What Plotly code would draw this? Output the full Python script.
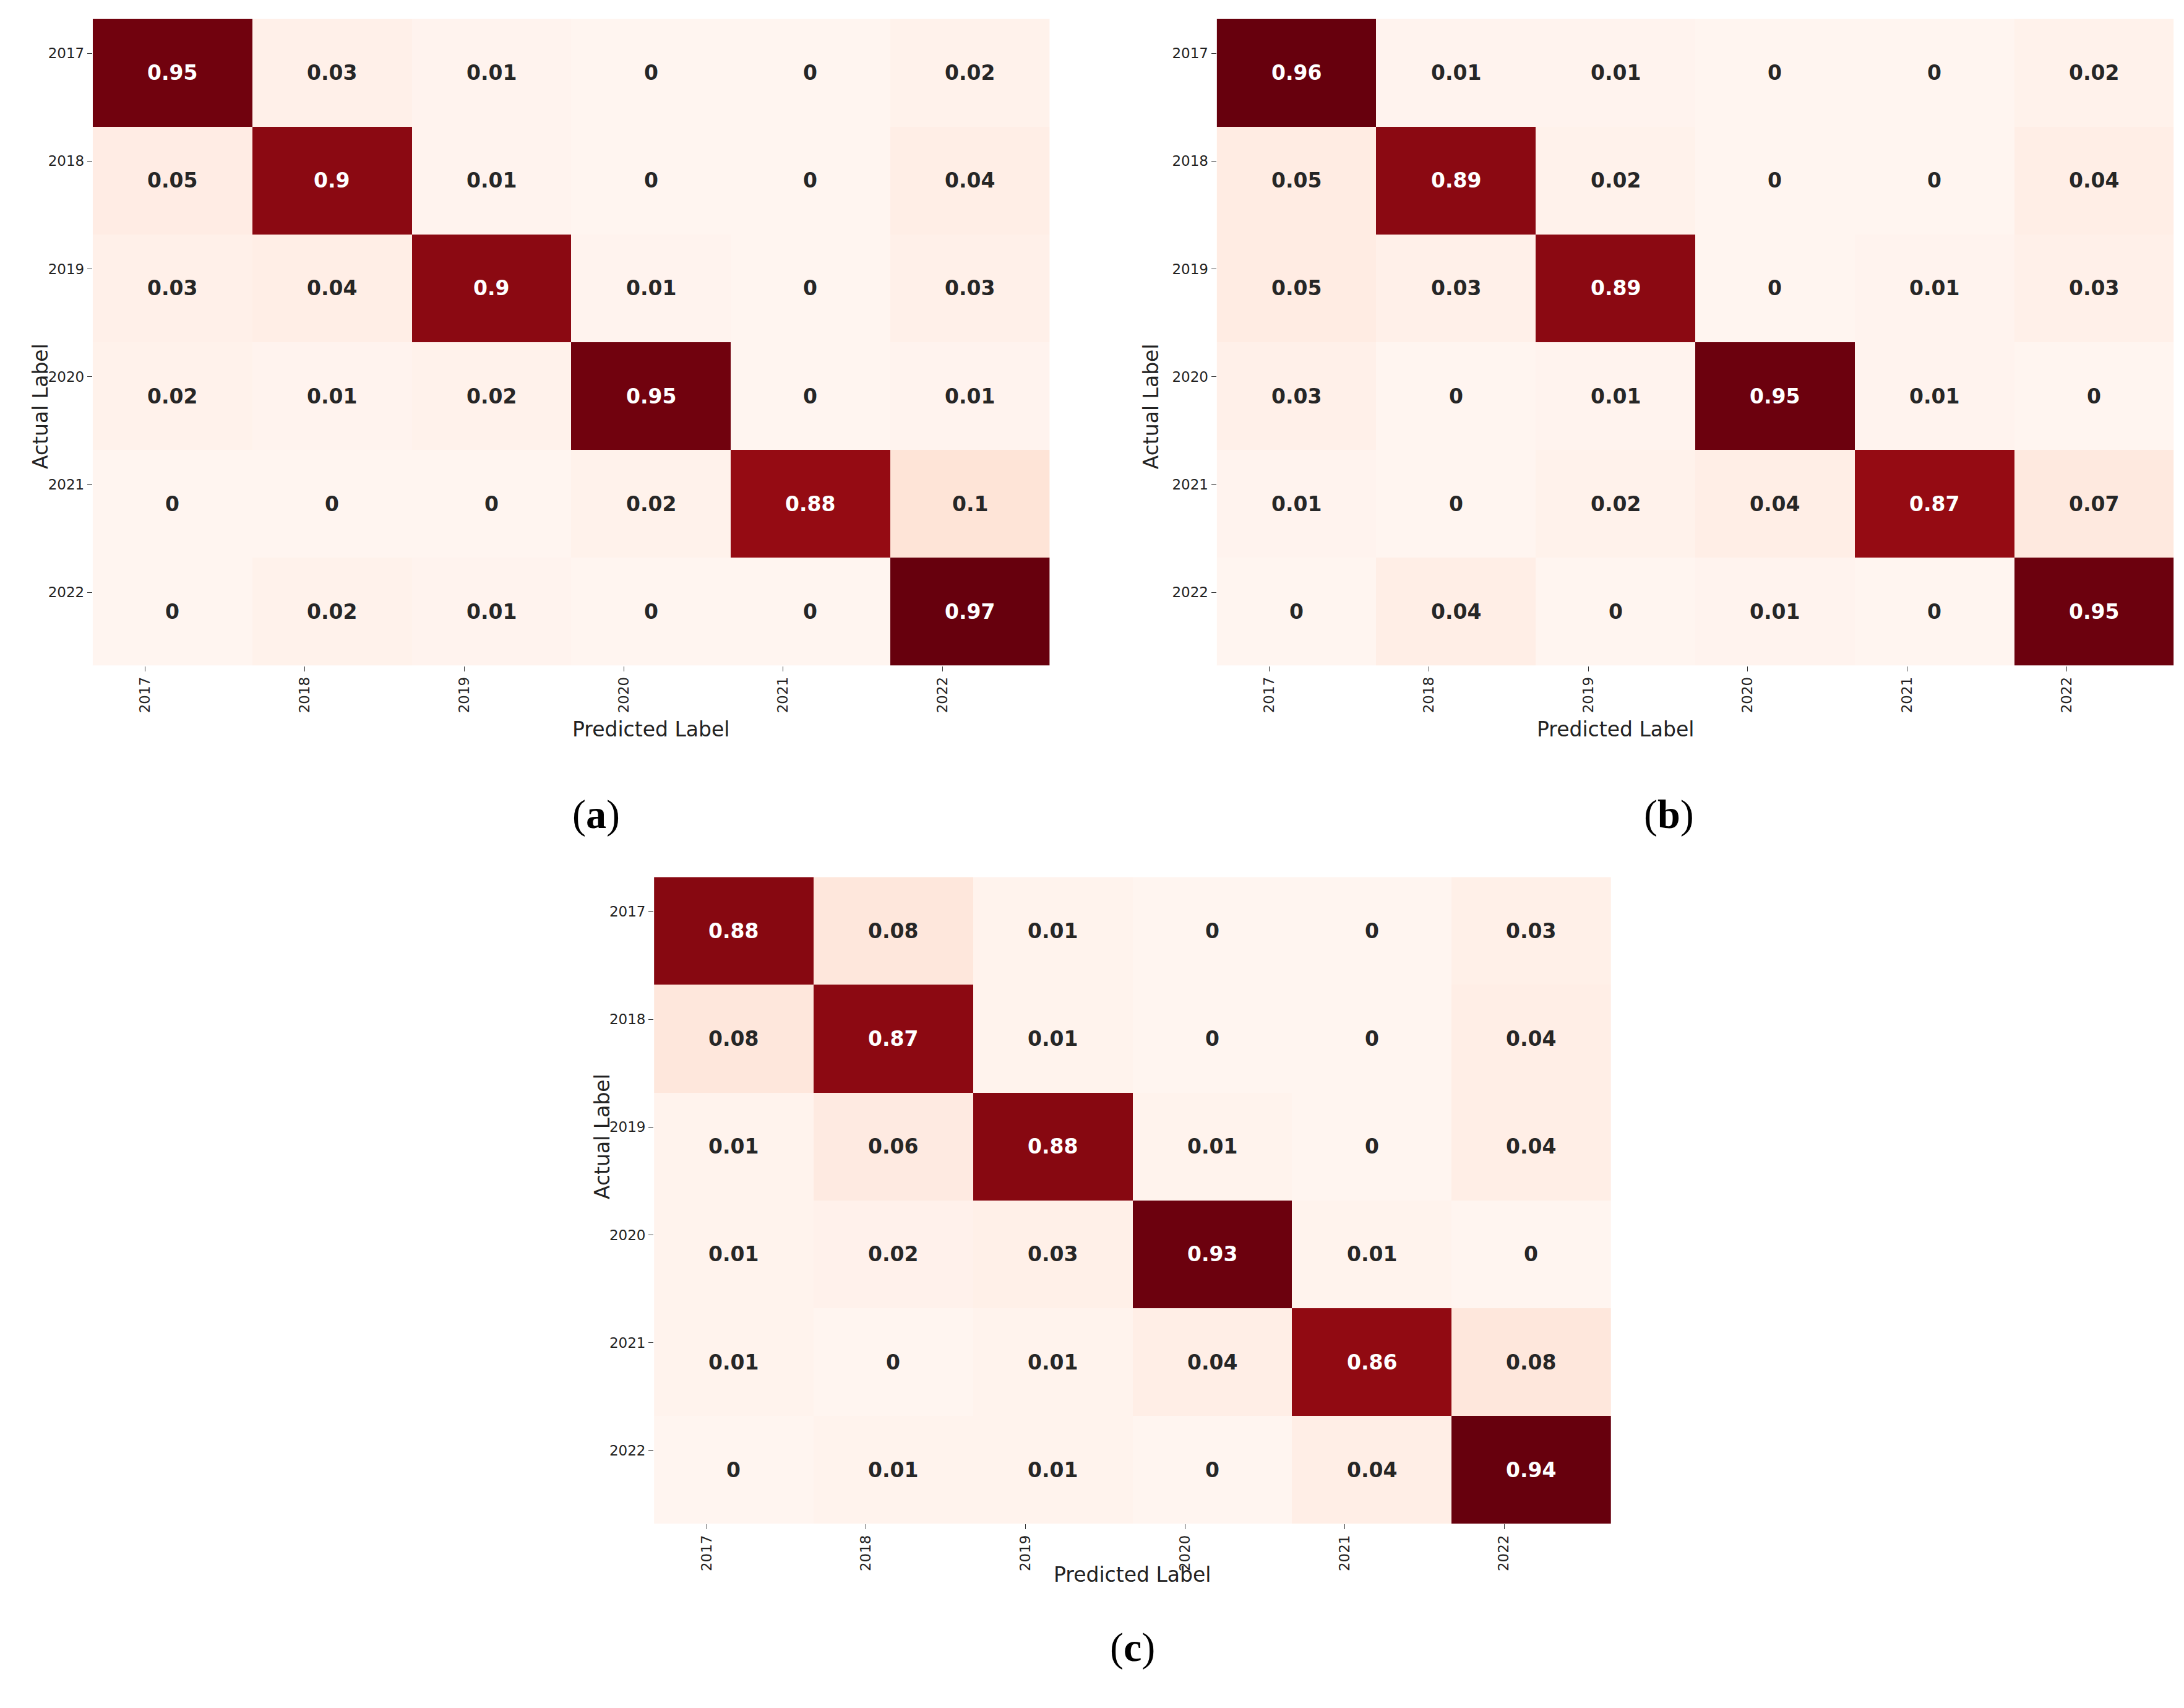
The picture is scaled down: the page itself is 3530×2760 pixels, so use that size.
import plotly.graph_objects as go

years = ["2017", "2018", "2019", "2020", "2021", "2022"]
mat_a = [[0.95,0.03,0.01,0,0,0.02],
         [0.05,0.9,0.01,0,0,0.04],
         [0.03,0.04,0.9,0.01,0,0.03],
         [0.02,0.01,0.02,0.95,0,0.01],
         [0,0,0,0.02,0.88,0.1],
         [0,0.02,0.01,0,0,0.97]]
mat_b = [[0.96,0.01,0.01,0,0,0.02],
         [0.05,0.89,0.02,0,0,0.04],
         [0.05,0.03,0.89,0,0.01,0.03],
         [0.03,0,0.01,0.95,0.01,0],
         [0.01,0,0.02,0.04,0.87,0.07],
         [0,0.04,0,0.01,0,0.95]]
mat_c = [[0.88,0.08,0.01,0,0,0.03],
         [0.08,0.87,0.01,0,0,0.04],
         [0.01,0.06,0.88,0.01,0,0.04],
         [0.01,0.02,0.03,0.93,0.01,0],
         [0.01,0,0.01,0.04,0.86,0.08],
         [0,0.01,0.01,0,0.04,0.94]]
captions = ["a", "b", "c"]

W, H = 3530, 2760
panels = [
    (mat_a, (63/1568, 750/1568), (1-475/1228, 1-10/1228)),
    (mat_b, (870/1568, 1557/1568), (1-475/1228, 1-10/1228)),
    (mat_c, (466/1568, 1153/1568), (1-1092/1228, 1-627/1228)),
]

fig = go.Figure()
ann = []
idx = list(range(6))
for k, (m, xd, yd) in enumerate(panels):
    s = "" if k == 0 else str(k+1)
    flat = [v for r in m for v in r]
    fig.add_trace(go.Heatmap(z=m, x=idx, y=idx, colorscale="Reds",
                             zmin=min(flat), zmax=max(flat), showscale=False,
                             xaxis="x"+s, yaxis="y"+s, hoverinfo="skip"))
    fig.update_layout(**{
        "xaxis"+s: dict(domain=list(xd), range=[-0.5, 5.5], anchor="y"+s,
                        tickvals=[i-0.17 for i in idx], ticktext=years, tickangle=-90,
                        ticks="outside", ticklen=8, tickcolor="#333", showgrid=False, zeroline=False,
                        tickfont=dict(family="DejaVu Sans", size=23, color="#222")),
        "yaxis"+s: dict(domain=list(yd), range=[5.5, -0.5], anchor="x"+s,
                        tickvals=[i-0.18 for i in idx], ticktext=years,
                        ticks="outside", ticklen=8, tickcolor="#333", showgrid=False, zeroline=False,
                        tickfont=dict(family="DejaVu Sans", size=23, color="#222")),
    })
    xr = "x"+s if s else "x"
    yr = "y"+s if s else "y"
    for i in idx:
        for j in idx:
            v = m[i][j]
            ann.append(dict(x=j, y=i, xref=xr, yref=yr, text="<b>%g</b>" % v, showarrow=False,
                            font=dict(family="DejaVu Sans", size=33,
                                      color="white" if v > 0.5 else "#262626")))
    xc = (xd[0]+xd[1])/2
    ann.append(dict(x=xc, y=yd[0]-46/1228, xref="paper", yref="paper", text="Predicted Label",
                    showarrow=False, font=dict(family="DejaVu Sans", size=33, color="#222")))
    ann.append(dict(x=xd[0]-47/1568, y=(yd[0]+yd[1])/2, xref="paper", yref="paper",
                    text="Actual Label", textangle=-90, showarrow=False,
                    font=dict(family="DejaVu Sans", size=33, color="#222")))
    ann.append(dict(x=xc, y=yd[0]-107/1228 if k < 2 else yd[0]-106/1228, xref="paper", yref="paper",
                    text="(<b>%s</b>)" % captions[k], showarrow=False,
                    font=dict(family="Liberation Serif", size=66, color="black")))

fig.update_layout(width=W, height=H, margin=dict(l=0, r=0, t=0, b=0),
                  paper_bgcolor="white", plot_bgcolor="white", annotations=ann)
fig.write_html("out.html")
